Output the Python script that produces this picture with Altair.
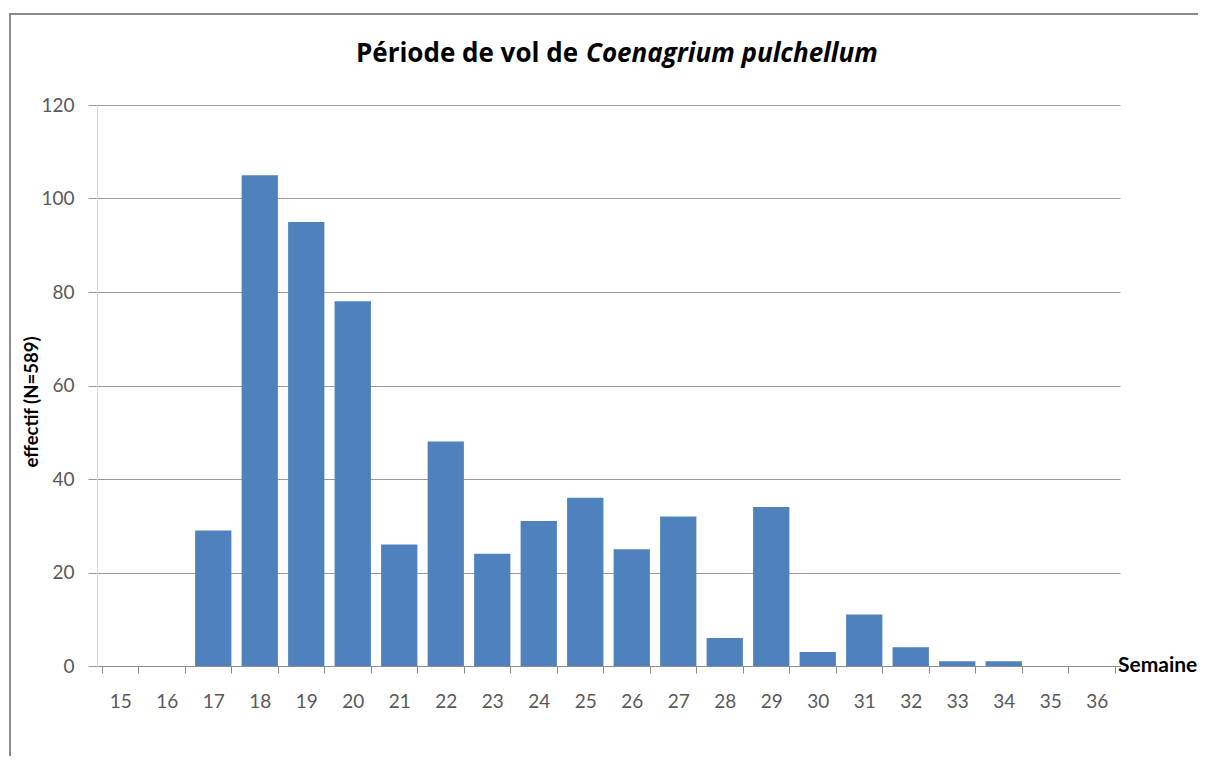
import altair as alt
import pandas as pd

weeks = [str(w) for w in range(15, 37)]
counts = [0, 0, 29, 105, 95, 78, 26, 48, 24, 31, 36, 25, 32, 6, 34, 3, 11, 4, 1, 1, 0, 0]
y_ticks = [0, 20, 40, 60, 80, 100, 120]

title_plain = "Période de vol de"
title_italic = "Coenagrium pulchellum"
y_title = "effectif (N=589)"
x_title = "Semaine"

df = pd.DataFrame({"week": weeks, "count": counts})
one = pd.DataFrame({"a": [0]})

FONT = "Lato"
TFONT = "Open Sans"
W, H = 1023, 561

bars = alt.Chart(df).mark_bar(color="#4f81bd").encode(
    x=alt.X("week:O", sort=weeks,
            scale=alt.Scale(paddingInner=0.22, paddingOuter=0.11),
            axis=alt.Axis(title=None, labelAngle=0, tickBand="extent", domainColor="#8c8c8c",
                          tickColor="#8c8c8c", tickSize=7, labelPadding=19, labelFontSize=19,
                          labelColor="#595959", labelFont=FONT, grid=False)),
    y=alt.Y("count:Q", scale=alt.Scale(domain=[0, 120], nice=False),
            axis=alt.Axis(title=None, values=y_ticks, gridColor="#9a9a9a", domainColor="#d9d9d9",
                          tickColor="#9a9a9a", tickSize=9, labelPadding=14, labelFontSize=19,
                          labelColor="#595959", labelFont=FONT)),
)

t1 = alt.Chart(one).mark_text(text=title_plain, align="right", baseline="middle", font=TFONT,
                              fontSize=26, fontWeight="bold", color="#000000").encode(
    x=alt.value(481), y=alt.value(-51))
t2 = alt.Chart(one).mark_text(text=title_italic, align="left", baseline="middle", font=TFONT,
                              fontSize=26, fontWeight="bold", fontStyle="italic", color="#000000").encode(
    x=alt.value(489), y=alt.value(-51))
yt = alt.Chart(one).mark_text(text=y_title, angle=270, align="center", baseline="middle", font=FONT,
                              fontSize=18.5, fontWeight="bold", color="#000000").encode(
    x=alt.value(-65), y=alt.value(297))
xt = alt.Chart(one).mark_text(text=x_title, align="left", baseline="middle", font=FONT,
                              fontSize=21, fontWeight="bold", color="#000000").encode(
    x=alt.value(1021), y=alt.value(561))
frame = alt.Chart(one).mark_rect(fill=None, stroke="#8c8c8c", strokeWidth=2).encode(
    x=alt.value(-87), x2=alt.value(1300), y=alt.value(-91), y2=alt.value(900))

chart = alt.layer(frame, bars, t1, t2, yt, xt).properties(
    width=W, height=H,
    autosize=alt.AutoSizeParams(type="none"),
    padding={"left": 89, "top": 97, "right": 78, "bottom": 90},
    background="white",
).configure_view(stroke=None)

chart.save("out.html", embed_options={"renderer": "svg", "actions": False})
